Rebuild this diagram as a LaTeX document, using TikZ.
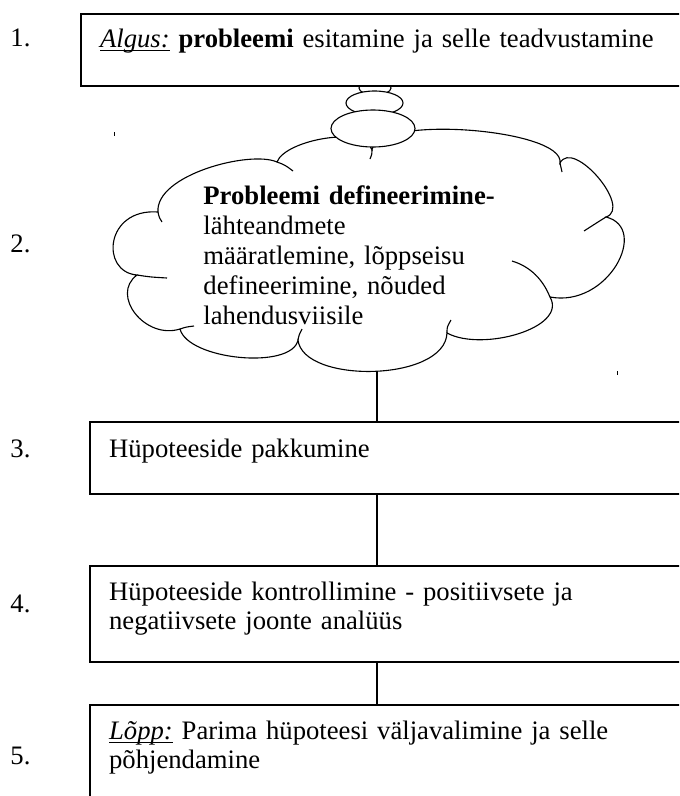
\documentclass[tikz,border=0pt]{standalone}
\usepackage{fontspec}
\setmainfont{Liberation Serif}
\usetikzlibrary{calc}
% Word-like underline (close under the baseline)
\newcommand\wordul[1]{\setbox0\hbox{#1}\rlap{\rule[-1.6pt]{\wd0}{0.5pt}}\box0\relax}

\begin{document}
\begin{tikzpicture}[
  x=0.45pt, y=-0.45pt,
  every node/.style={font=\fontsize{12pt}{13pt}\selectfont},
  stepbox/.style={
    draw, fill=white, line width=0.7pt, anchor=north west,
    text width=300pt, align=left, inner xsep=8.7pt, inner ysep=0pt,
    text height=15.75pt
  },
  nr/.style={anchor=base west, inner sep=0pt},
  cloudline/.style={line width=0.5pt},
  bubble/.style={line width=0.5pt, fill=white},
  link/.style={line width=0.55pt}
]
  \useasboundingbox (0,0) rectangle (679,796);
  \clip (0,0) rectangle (679,796);

  % Pilve nurgad
  \coordinate (c1) at (372,150);
  \coordinate (c2) at (560,163);
  \coordinate (c3) at (606,217);
  \coordinate (c4) at (550,297);
  \coordinate (c5) at (447,333);
  \coordinate (c6) at (298,340);
  \coordinate (c7) at (180,329);
  \coordinate (c8) at (137,275);
  \coordinate (c9) at (158,212);
  \coordinate (c10) at (277,162);
  \coordinate (cloudbot) at (377,372);

  % Pilv
  \draw[cloudline] (c10)
    .. controls (285,140) and (365,125) .. (c1)
    .. controls (377,114) and (565,129) .. (c2)
    .. controls (573,138) and (633,208) .. (c3)
    .. controls (650,228) and (608,308) .. (c4)
    .. controls (568,328) and (482,352) .. (c5)
    .. controls (445,382) and (303,384) .. (c6)
    .. controls (292,370) and (188,360) .. (c7)
    .. controls (145,340) and (110,295) .. (c8)
    .. controls (100,272) and (105,208) .. (c9)
    .. controls (155,175) and (250,150) .. (c10) -- cycle;

  % Kaarte otsad pilve sees
  \draw[cloudline] (c1) .. controls (372,154) .. (370,159);
  \draw[cloudline] (c2) .. controls (561,167) .. (562,172);
  \draw[cloudline] (c3) .. controls (598,222) .. (584,231);
  \draw[cloudline] (512,261) .. controls (535,268) and (545,285) .. (c4);
  \draw[cloudline] (c5) .. controls (447,327) .. (451,320);
  \draw[cloudline] (c6) .. controls (299,335) .. (302,329);
  \draw[cloudline] (c7) .. controls (186,327) .. (194,326);
  \draw[cloudline] (c8) .. controls (150,277) .. (167,278);
  \draw[cloudline] (c9) .. controls (159,217) .. (162,222);
  \draw[cloudline] (c10) .. controls (285,165) .. (293,171);

  % Mullid
  \draw[bubble] (375,88) ellipse [x radius=16, y radius=7];
  \draw[bubble] (374.5,103) ellipse [x radius=28.5, y radius=12];
  \draw[bubble] (373,128.5) ellipse [x radius=42, y radius=18.5];

  % Vaiksed tapid
  \draw[line width=0.45pt] (114,132) -- (114,136);
  \draw[line width=0.45pt] (617,371) -- (617,375);

  % Sammud
  \node[stepbox, text height=15.3pt, text depth=17.1pt] (algus) at (80,13)
    {\wordul{\textit{Algus:}} \textbf{probleemi} esitamine ja selle teadvustamine};
  \node[anchor=base west, inner sep=0pt, text width=200pt, align=left,
    font=\fontsize{12pt}{13.6pt}\selectfont] (def) at (203,204)
    {\textbf{Probleemi defineerimine-}\\lähteandmete\\määratlemine, lõppseisu\\defineerimine, nõuded\\lahendusviisile};
  \node[stepbox, text height=16.2pt, text depth=16.2pt] (hyp) at (89,421)
    {Hüpoteeside pakkumine};
  \node[stepbox, text depth=27.45pt] (kontr) at (89,565)
    {Hüpoteeside kontrollimine - positiivsete ja\\negatiivsete joonte analüüs};
  \node[stepbox, text depth=50pt] (lopp) at (89,704)
    {\wordul{\textit{Lõpp:}} Parima hüpoteesi väljavalimine ja selle\\põhjendamine};

  % Numbrid
  \node[nr] (n1) at (10,46) {1.};
  \node[nr] (n2) at (10,252) {2.};
  \node[nr] (n3) at (10,457) {3.};
  \node[nr] (n4) at (10,612) {4.};
  \node[nr] (n5) at (10,764) {5.};

  % Uhendused
  \draw[link] (cloudbot) -- (cloudbot |- hyp.north);
  \draw[link] (hyp.south -| cloudbot) -- (kontr.north -| cloudbot);
  \draw[link] (kontr.south -| cloudbot) -- (lopp.north -| cloudbot);
\end{tikzpicture}
\end{document}
